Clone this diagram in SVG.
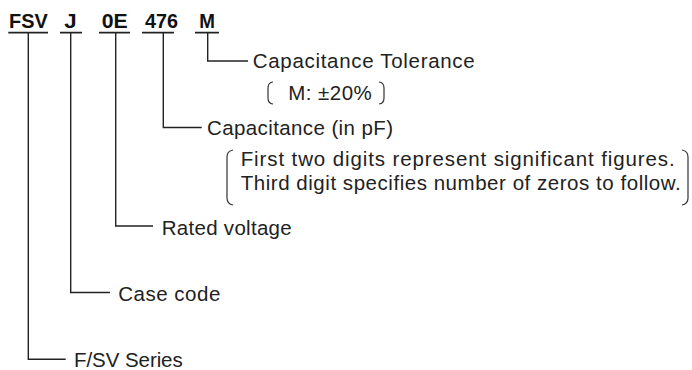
<svg xmlns="http://www.w3.org/2000/svg" width="692" height="370" viewBox="0 0 692 370">
<style>
.code{font-family:"Liberation Sans",Arial,sans-serif;font-weight:bold;font-size:19.5px;fill:#111}
.lbl{font-family:"Liberation Sans",Arial,sans-serif;font-size:20.5px;fill:#222}
.ul{stroke:#222;stroke-width:1.8;fill:none}
.cn{stroke:#222;stroke-width:1.4;fill:none}
.br{stroke:#333;stroke-width:1.2;fill:none}
</style>
<rect width="692" height="370" fill="#fff"/>
<g id="codes">
<text class="code" x="9" y="28" textLength="38.7" lengthAdjust="spacingAndGlyphs">FSV</text>
<text class="code" x="64.3" y="28" textLength="12.4" lengthAdjust="spacingAndGlyphs">J</text>
<text class="code" x="101.7" y="28" textLength="26" lengthAdjust="spacingAndGlyphs">0E</text>
<text class="code" x="145" y="28" textLength="33" lengthAdjust="spacingAndGlyphs">476</text>
<text class="code" x="199.3" y="28" textLength="15.7" lengthAdjust="spacingAndGlyphs">M</text>
<path class="ul" d="M8.3 32.7H48M60 32.7H82M99 32.7H130M142 32.7H174M195 32.7H219"/>
</g>
<g id="connectors">
<path class="cn" d="M28.3 33V359.3H65.7"/>
<path class="cn" d="M70.7 33V292.5H110"/>
<path class="cn" d="M115.7 33V226H153"/>
<path class="cn" d="M163.3 33V127.5H201.7"/>
<path class="cn" d="M207.7 33V61H248"/>
</g>
<g id="tolerance">
<text class="lbl" x="252.7" y="67.5" textLength="222" lengthAdjust="spacing">Capacitance Tolerance</text>
<path class="br" d="M273 82Q268 82.5 268 88V98Q268 103.5 273 104"/>
<text class="lbl" x="288.3" y="100" textLength="83.4" lengthAdjust="spacing">M: ±20%</text>
<path class="br" d="M379 82Q384 82.5 384 88V98Q384 103.5 379 104"/>
</g>
<g id="capacitance">
<text class="lbl" x="207" y="135" textLength="186" lengthAdjust="spacing">Capacitance (in pF)</text>
<path class="br" d="M233 150Q227 151 227 157V198Q227 204 233 205"/>
<text class="lbl" x="240.7" y="166" textLength="434" lengthAdjust="spacing">First two digits represent significant figures.</text>
<text class="lbl" x="240.7" y="190" textLength="440" lengthAdjust="spacing">Third digit specifies number of zeros to follow.</text>
<path class="br" d="M682 150Q688 151 688 157V198Q688 204 682 205"/>
</g>
<g id="voltage">
<text class="lbl" x="161.7" y="234.5" textLength="130" lengthAdjust="spacing">Rated voltage</text>
</g>
<g id="case">
<text class="lbl" x="118.3" y="300.5" textLength="102" lengthAdjust="spacing">Case code</text>
</g>
<g id="series">
<text class="lbl" x="74" y="367" textLength="108.7" lengthAdjust="spacing">F/SV Series</text>
</g>
</svg>
